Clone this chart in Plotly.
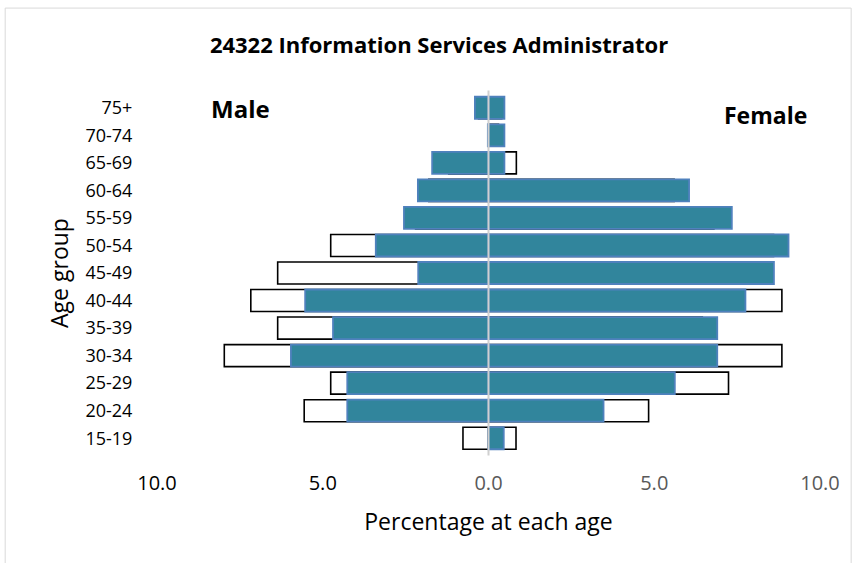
import plotly.graph_objects as go

age_groups = ["15-19", "20-24", "25-29", "30-34", "35-39", "40-44", "45-49",
              "50-54", "55-59", "60-64", "65-69", "70-74", "75+"]

# Occupation (filled teal bars), percent at each age
male_occ = [0.0, 4.26, 4.26, 5.96, 4.69, 5.53, 2.12, 3.40, 2.55, 2.13, 1.70, 0.02, 0.41]
female_occ = [0.46, 3.47, 5.62, 6.90, 6.90, 7.75, 8.61, 9.05, 7.34, 6.05, 0.48, 0.48, 0.48]

# Comparison (outlined bars), percent at each age
male_all = [0.77, 5.56, 4.76, 7.97, 6.36, 7.17, 6.36, 4.76, 2.2, 1.8, 1.2, 0.0, 0.3]
female_all = [0.83, 4.83, 7.24, 8.85, 6.45, 8.85, 8.3, 8.6, 6.8, 5.6, 0.84, 0.3, 0.4]

x_tickvals = [-10, -5, 0, 5, 10]
x_ticktext = ["<span style='color:#000000'>10.0</span>",
              "<span style='color:#000000'>5.0</span>", "0.0", "5.0", "10.0"]

FONT = "Open Sans"
TEAL = "#31859c"
TEAL_EDGE = "#4f81bd"

fig = go.Figure()

fig.add_trace(go.Bar(y=age_groups, x=[-v for v in male_all], orientation="h",
                     marker=dict(color="white", line=dict(color="black", width=1.6)),
                     name="Male all", showlegend=False))
fig.add_trace(go.Bar(y=age_groups, x=female_all, orientation="h",
                     marker=dict(color="white", line=dict(color="black", width=1.6)),
                     name="Female all", showlegend=False))
fig.add_trace(go.Bar(y=age_groups, x=[-v for v in male_occ], orientation="h",
                     marker=dict(color=TEAL, line=dict(color=TEAL_EDGE, width=1.8)),
                     name="Male", showlegend=False))
fig.add_trace(go.Bar(y=age_groups, x=female_occ, orientation="h",
                     marker=dict(color=TEAL, line=dict(color=TEAL_EDGE, width=1.8)),
                     name="Female", showlegend=False))

fig.update_layout(
    width=858, height=563,
    barmode="overlay", bargap=0.2,
    paper_bgcolor="white", plot_bgcolor="white",
    margin=dict(l=157, r=38, t=94, b=111, autoexpand=False),
    font=dict(family=FONT, color="#000000"),
    title=dict(text="<b>24322 Information Services Administrator</b>",
               x=439 / 858, xanchor="center", y=1 - 45 / 563, yanchor="middle",
               font=dict(family=FONT, size=22, color="#000000")),
    xaxis=dict(range=[-10, 10], tickvals=x_tickvals, ticktext=x_ticktext,
               showgrid=False, zeroline=False, showline=False, automargin=False,
               ticks="outside", ticklen=13, tickcolor="rgba(0,0,0,0)",
               tickfont=dict(family=FONT, size=20, color="#595959"),
               title=dict(text="Percentage at each age", standoff=18,
                          font=dict(family=FONT, size=23, color="#000000"))),
    yaxis=dict(showgrid=False, zeroline=False, showline=False, automargin=False,
               ticks="outside", ticklen=20, tickcolor="rgba(0,0,0,0)",
               tickfont=dict(family=FONT, size=18, color="#000000"),
               range=[-0.5, 12.5],
               title=dict(text="Age group", standoff=10,
                          font=dict(family=FONT, size=23, color="#000000"))),
    shapes=[
        dict(type="line", xref="x", yref="paper", x0=0, x1=0, y0=-0.01, y1=1.01,
             line=dict(color="#d0d0d0", width=2), layer="above"),
        dict(type="rect", xref="paper", yref="paper", x0=-0.229, x1=1.047,
             y0=-0.4, y1=1.24, line=dict(color="#d9d9d9", width=1), layer="below"),
    ],
    annotations=[
        dict(text="<b>Male</b>", xref="paper", yref="paper",
             x=(240 - 157) / 663, y=(452 - 108) / 358,
             xanchor="center", yanchor="middle",
             showarrow=False, font=dict(family=FONT, size=24, color="#000000")),
        dict(text="<b>Female</b>", xref="paper", yref="paper",
             x=(765 - 157) / 663, y=(452 - 115) / 358,
             xanchor="center", yanchor="middle",
             showarrow=False, font=dict(family=FONT, size=23, color="#000000")),
    ],
)

fig.write_html("out.html", config={"displayModeBar": False},
               post_script="document.body.style.margin='0';")
